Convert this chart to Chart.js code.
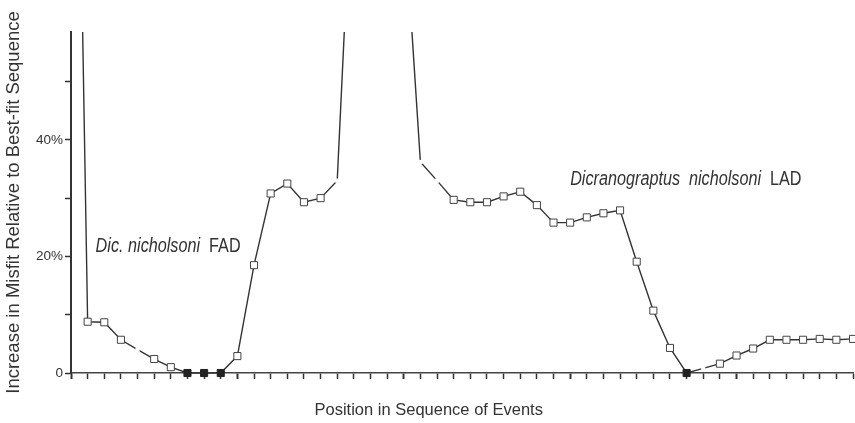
<!DOCTYPE html>
<html>
<head>
<meta charset="utf-8">
<script src="https://cdn.jsdelivr.net/npm/chart.js@4/dist/chart.umd.min.js"></script>
<style>
  body { margin: 0; background: #fff; }
</style>
</head>
<body>
<canvas id="misfitChart" width="855" height="423"></canvas>
<script>
// position of each event in the sequence (0..47)
const positions = Array.from({ length: 48 }, (_, i) => String(i));

// increase in misfit (%) - values above the top of the plot are clipped
const misfit = [
  175, 8.8, 8.7, 5.7, 4.0, 2.4, 1.0, 0, 0, 0,
  2.9, 18.5, 30.8, 32.5, 29.3, 30.0, 33.0, 93, 100, 95,
  80, 36.2, 33.0, 29.7, 29.3, 29.3, 30.3, 31.1, 28.8, 25.8,
  25.8, 26.7, 27.4, 27.9, 19.1, 10.7, 4.3, 0, 0.8, 1.6,
  3.0, 4.2, 5.7, 5.7, 5.7, 5.85, 5.7, 5.85
];

// events at zero misfit drawn as solid squares
const solidPoints = [7, 8, 9, 37];
// points shown only as a break in the line
const breakPoints = [4, 16, 21, 22, 38];
// points off the top of the plot
const offPoints = [0, 17, 18, 19, 20];

const yTicks = [0, 10, 20, 30, 40, 50];
const yLabels = { 0: '0', 20: '20%', 40: '40%' };

const xTitle = 'Position in Sequence of Events';
const labels = [
  { parts: ['Dic. nicholsoni', 'FAD'], at: 1.48, value: 20.8 },
  { parts: ['Dicranograptus  nicholsoni', 'LAD'], at: 30, value: 32.3 }
];

const labelPlugin = {
  id: 'labelPlugin',
  afterDatasetsDraw(chart) {
    const { ctx, scales } = chart;
    ctx.save();
    ctx.fillStyle = '#333';
    // species labels, in a narrow face
    ctx.textBaseline = 'alphabetic';
    labels.forEach(l => {
      const x0 = scales.x.getPixelForValue(l.at);
      const y = scales.y.getPixelForValue(l.value);
      ctx.save();
      ctx.translate(x0, y);
      ctx.scale(0.81, 1);
      ctx.font = 'italic 20px "Liberation Sans", Arial, sans-serif';
      ctx.fillText(l.parts[0], 0, 0);
      const w = ctx.measureText(l.parts[0] + '  ').width;
      ctx.font = '20px "Liberation Sans", Arial, sans-serif';
      ctx.fillText(l.parts[1], w, 0);
      ctx.restore();
    });
    // x-axis title, set left of the axis centre as in the original
    ctx.font = '16.5px "Liberation Sans", Arial, sans-serif';
    ctx.textAlign = 'center';
    ctx.textBaseline = 'middle';
    ctx.fillText(xTitle, scales.x.getPixelForValue(21.5), 410);
    ctx.restore();
  }
};

const kind = i => solidPoints.includes(i) ? 'solid'
  : breakPoints.includes(i) ? 'break'
  : offPoints.includes(i) ? 'off' : 'open';

new Chart(document.getElementById('misfitChart'), {
  type: 'line',
  data: {
    labels: positions,
    datasets: [{
      data: misfit,
      clip: { left: 10, right: 10, bottom: 10, top: 0 },
      borderColor: '#333',
      borderWidth: 1.4,
      tension: 0,
      pointStyle: 'rect',
      pointRadius: c => ({ solid: 5, open: 5, break: 3, off: 0 })[kind(c.dataIndex)],
      pointBackgroundColor: c => kind(c.dataIndex) === 'solid' ? '#222' : '#fff',
      pointBorderColor: c => ({ solid: '#222', open: '#444', break: '#fff', off: '#fff' })[kind(c.dataIndex)],
      pointBorderWidth: c => kind(c.dataIndex) === 'break' ? 0 : 1
    }]
  },
  options: {
    responsive: false,
    animation: false,
    layout: { autoPadding: false, padding: { top: 32, right: 2, left: 0, bottom: 0 } },
    scales: {
      x: {
        type: 'category',
        offset: false,
        afterFit: s => { s.height = 50; },
        border: { color: '#444', width: 1.5 },
        grid: {
          drawOnChartArea: false,
          tickLength: 6,
          tickColor: '#333',
          tickWidth: c => c.index % 10 === 0 ? 2 : 1.5
        },
        ticks: { display: false, autoSkip: false },
        title: { display: false }
      },
      y: {
        min: 0,
        max: 58.5,
        afterFit: s => { s.width = 71; },
        afterBuildTicks: s => { s.ticks = yTicks.map(v => ({ value: v })); },
        border: { color: '#333', width: 2 },
        grid: {
          drawOnChartArea: false,
          tickLength: 6,
          tickColor: '#333',
          tickWidth: 1.5
        },
        ticks: {
          padding: 2,
          color: '#333',
          font: { family: '"Liberation Sans", Arial, sans-serif', size: 13.5 },
          callback: v => yLabels[v] || ''
        },
        title: {
          display: true,
          text: 'Increase in Misfit Relative to Best-fit Sequence',
          color: '#333',
          font: { family: '"Liberation Sans", Arial, sans-serif', size: 18.5 },
          padding: { top: 3, bottom: 0 }
        }
      }
    },
    plugins: {
      legend: { display: false },
      tooltip: { enabled: false }
    }
  },
  plugins: [labelPlugin]
});
</script>
</body>
</html>
